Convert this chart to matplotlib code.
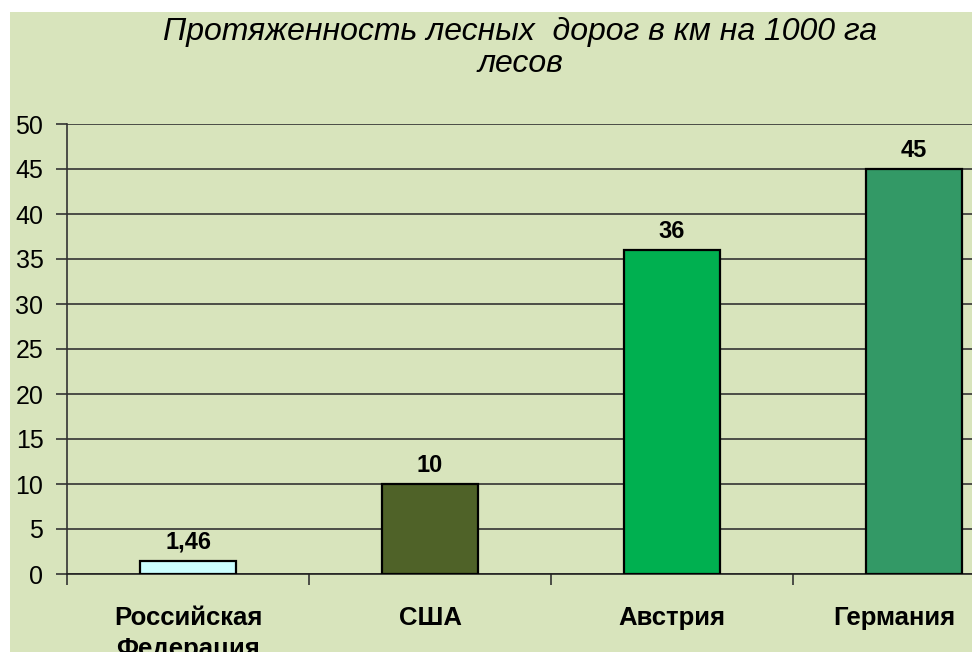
import matplotlib
matplotlib.use("Agg")
import matplotlib.pyplot as plt
from matplotlib.patches import Rectangle
from matplotlib.transforms import ScaledTranslation

categories = ["Российская\nФедерация", "США", "Австрия", "Германия"]
values = [1.46, 10, 36, 45]
value_labels = ["1,46", "10", "36", "45"]
bar_colors = ["#CCFFFF", "#4F6228", "#00B050", "#339966"]
title = "Протяженность лесных  дорог в км на 1000 га\nлесов"

BG = "#D8E4BC"

plt.rcParams["font.family"] = ["Liberation Sans", "DejaVu Sans"]

fig = plt.figure(figsize=(9.72, 6.52), dpi=100)
fig.patch.set_facecolor("white")
# green chart area with a thin white border on the top and left
fig.patches.append(Rectangle((10 / 972, 0), 1, 1 - 12 / 652, transform=fig.transFigure,
                             facecolor=BG, edgecolor="none", zorder=-10))

ax = fig.add_axes([67 / 972, 1 - 574 / 652, 968 / 972, 450 / 652])
ax.set_facecolor(BG)
ax.patch.set_alpha(0)

x = list(range(len(categories)))
bars = ax.bar(x, values, width=0.4, color=bar_colors, edgecolor="black", linewidth=1.6, zorder=3)
for b, lab in zip(bars, value_labels):
    ax.annotate(lab, (b.get_x() + b.get_width() / 2, b.get_height()), xytext=(0, 5),
                textcoords="offset points", ha="center", va="bottom",
                fontsize=17, fontweight="bold")

ax.set_xlim(-0.5, 3.5)
ax.set_ylim(0, 50)
ax.set_yticks(range(0, 51, 5))
ax.yaxis.grid(True, color="#333333", linewidth=1.2, zorder=0)
ax.set_axisbelow(True)

ax.set_xticks(x)
ax.set_xticklabels(categories, fontsize=18.5, fontweight="bold", linespacing=1.35)
ax.set_xticks([i + 0.5 for i in range(-1, 4)], minor=True)
ax.tick_params(axis="x", which="major", length=0, pad=23)
ax.tick_params(axis="x", which="minor", length=8, width=1.2, color="#333333")
ax.tick_params(axis="y", length=8, width=1.2, color="#333333", labelsize=18, pad=9)

# last label is pushed left so it stays inside the picture
last = ax.get_xticklabels()[-1]
last.set_transform(last.get_transform() + ScaledTranslation(-20 / 100, 0, fig.dpi_scale_trans))

for s in ["top", "right"]:
    ax.spines[s].set_visible(False)
ax.spines["left"].set_color("#333333")
ax.spines["left"].set_linewidth(1.2)
ax.spines["bottom"].set_color("#222222")
ax.spines["bottom"].set_linewidth(1.2)

fig.text(520 / 972, 1 - 48 / 652, title, ha="center", va="center", fontsize=23,
         fontstyle="italic", linespacing=1.1)

fig.savefig("out.png", dpi=100, facecolor=fig.get_facecolor())
